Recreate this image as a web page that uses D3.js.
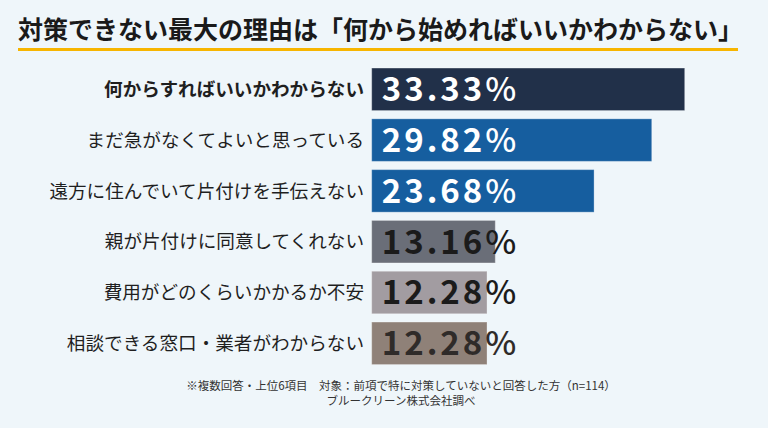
<!DOCTYPE html>
<html>
<head>
<meta charset="utf-8">
<script src="https://cdn.jsdelivr.net/npm/d3@7"></script>
<style>
  html, body { margin: 0; padding: 0; background: #eff6fa; }
  svg { display: block; font-family: "Noto Sans CJK JP", "Noto Sans", sans-serif; }
</style>
</head>
<body>
<div id="chart"></div>
<script>
// 対策できない理由 横棒グラフ
const title = "対策できない最大の理由は「何から始めればいいかわからない」";
const reasons = [
  "何からすればいいかわからない",
  "まだ急がなくてよいと思っている",
  "遠方に住んでいて片付けを手伝えない",
  "親が片付けに同意してくれない",
  "費用がどのくらいかかるか不安",
  "相談できる窓口・業者がわからない"
];
const percents = [33.33, 29.82, 23.68, 13.16, 12.28, 12.28];
const barColors = ["#213049", "#165e9f", "#165e9f", "#6a6e78", "#a29ca1", "#8f8178"];
const valueColors = ["#ffffff", "#ffffff", "#ffffff", "#1b1b1b", "#1b1b1b", "#2f2b29"];
const notes = [
  "※複数回答・上位6項目　対象：前項で特に対策していないと回答した方（n=114）",
  "ブルークリーン株式会社調べ"
];

const width = 768, height = 428;

const svg = d3.select("#chart").append("svg")
  .attr("width", width)
  .attr("height", height);

svg.append("rect").attr("width", width).attr("height", height).attr("fill", "#eff6fa");

// title + orange underline
svg.append("text")
  .attr("x", 18)
  .attr("y", 39)
  .attr("font-size", 25)
  .attr("font-weight", 700)
  .attr("fill", "#1a1a1a")
  .text(title);

svg.append("rect")
  .attr("x", 18).attr("y", 48)
  .attr("width", 720).attr("height", 3)
  .attr("fill", "#f7b500");

const x = d3.scaleLinear().domain([0, 33.33]).range([371.7, 684.7]);
const y = d3.scaleBand().domain(reasons).range([63.9, 368.7])
  .paddingInner(0.163).paddingOuter(0.0815);

const rows = svg.append("g").selectAll("g")
  .data(reasons)
  .join("g");

rows.append("rect")
  .attr("x", x(0))
  .attr("y", d => y(d))
  .attr("width", (d, i) => x(percents[i]) - x(0))
  .attr("height", y.bandwidth())
  .attr("fill", (d, i) => barColors[i])
  .attr("stroke", "rgba(255,255,255,0.3)")
  .attr("stroke-width", 1);

// category labels
rows.append("text")
  .attr("x", 364)
  .attr("y", d => y(d) + y.bandwidth() / 2)
  .attr("dy", "0.36em")
  .attr("text-anchor", "end")
  .attr("font-size", 18.6)
  .attr("font-weight", (d, i) => i === 0 ? 700 : 400)
  .attr("fill", "#1f1f1f")
  .text(d => d);

// value labels, the % sign stays dark when it runs past the bar
const vals = rows.append("text")
  .attr("x", x(0) + 10)
  .attr("y", d => y(d) + y.bandwidth() / 2)
  .attr("dy", "0.36em")
  .attr("font-size", 33)
  .attr("font-weight", 600)
  .attr("letter-spacing", 3)
  .attr("fill", (d, i) => valueColors[i]);

vals.append("tspan").text((d, i) => percents[i].toFixed(2));
vals.append("tspan")
  .attr("font-weight", 500)
  .text("%");

// footnote
svg.append("g")
  .attr("font-size", 11.5)
  .attr("fill", "#333")
  .attr("text-anchor", "middle")
  .selectAll("text")
  .data(notes)
  .join("text")
  .attr("x", 401)
  .attr("y", (d, i) => 390 + i * 15)
  .text(d => d);
</script>
</body>
</html>
